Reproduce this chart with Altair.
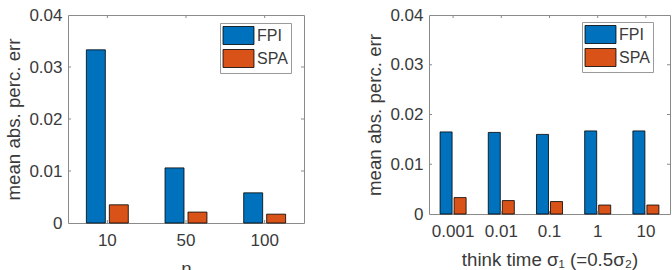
import altair as alt
import pandas as pd

# Mean absolute percentage error of the two approximations
series = ["FPI", "SPA"]
colors = ["#0072BD", "#D95319"]

n_labels = ["10", "50", "100"]
fpi_by_n = [0.0333, 0.0106, 0.0058]
spa_by_n = [0.0035, 0.0021, 0.0017]

sigma_labels = ["0.001", "0.01", "0.1", "1", "10"]
fpi_by_sigma = [0.0165, 0.0164, 0.0160, 0.0167, 0.0167]
spa_by_sigma = [0.0033, 0.0027, 0.0025, 0.0018, 0.0018]

y_ticks = [0, 0.01, 0.02, 0.03, 0.04]
inner_ticks = [0.01, 0.02, 0.03]

FONT = "Liberation Sans"
TEXT = "#3a3a3a"
FRAME = "#8a8a8a"


def long_table(cats, fpi, spa):
    rows = []
    for c, a, b in zip(cats, fpi, spa):
        rows.append({"cat": c, "method": "FPI", "err": a})
        rows.append({"cat": c, "method": "SPA", "err": b})
    return pd.DataFrame(rows)


def panel(cats, fpi, spa, x_title, w, h, off_pad_inner, off_pad_outer, leg_x, leg_y):
    df = long_table(cats, fpi, spa)
    xscale = alt.Scale(domain=cats, paddingInner=0, paddingOuter=0)
    yscale = alt.Scale(domain=[0, 0.04], nice=False)

    bars = alt.Chart(df).mark_bar(stroke="black", strokeWidth=0.8).encode(
        x=alt.X("cat:N", sort=cats, scale=xscale,
                axis=alt.Axis(title=x_title, labelAngle=0, ticks=False, domain=False,
                              labelPadding=9, titlePadding=11)),
        xOffset=alt.XOffset("method:N", sort=series,
                            scale=alt.Scale(paddingInner=off_pad_inner, paddingOuter=off_pad_outer)),
        y=alt.Y("err:Q", scale=yscale,
                axis=alt.Axis(title="mean abs. perc. err", values=y_ticks, format="~g",
                              ticks=False, domain=False, grid=False,
                              labelPadding=6, titlePadding=5)),
        color=alt.Color("method:N", sort=series,
                        scale=alt.Scale(domain=series, range=colors),
                        legend=alt.Legend(title=None, orient="none", legendX=leg_x, legendY=leg_y,
                                          symbolType="M-1.72,-1H1.72V1H-1.72Z", symbolSize=324,
                                          symbolStrokeColor="black", symbolStrokeWidth=0.8,
                                          symbolOpacity=1, symbolOffset=6,
                                          labelFont=FONT, labelFontSize=16, labelColor=TEXT,
                                          labelOffset=9, rowPadding=0, padding=3,
                                          strokeColor="#9a9a9a", fillColor="white")),
    )

    # inward tick marks along the frame
    ydf = pd.DataFrame({"v": inner_ticks})
    left_ticks = alt.Chart(ydf).mark_rule(color=FRAME).encode(
        y=alt.Y("v:Q", scale=yscale), x=alt.value(0), x2=alt.value(3))
    right_ticks = alt.Chart(ydf).mark_rule(color=FRAME).encode(
        y=alt.Y("v:Q", scale=yscale), x=alt.value(w - 3), x2=alt.value(w))
    xdf = pd.DataFrame({"cat": cats})
    top_ticks = alt.Chart(xdf).mark_rule(color=FRAME).encode(
        x=alt.X("cat:N", sort=cats, scale=xscale), y=alt.value(0), y2=alt.value(3))
    bottom_ticks = alt.Chart(xdf).mark_rule(color=FRAME).encode(
        x=alt.X("cat:N", sort=cats, scale=xscale), y=alt.value(h - 3), y2=alt.value(h))

    return alt.layer(bars, left_ticks, right_ticks, top_ticks, bottom_ticks).properties(
        width=w, height=h)


left = panel(n_labels, fpi_by_n, spa_by_n, "n", 236, 208, 0.174, 0.8, 152, 8)
right = panel(sigma_labels, fpi_by_sigma, spa_by_sigma, "think time σ₁ (=0.5σ₂)",
              241, 199, 0.143, 0.79, 153, 7)

chart = alt.hconcat(left, right, spacing=60).resolve_scale(
    color="independent", xOffset="independent").resolve_legend(color="independent").properties(
    padding={"left": 4, "top": 5, "right": 0, "bottom": 0}, background="white"
).configure_view(stroke=FRAME, strokeWidth=1).configure_axis(
    labelFont=FONT, labelFontSize=17, labelColor=TEXT,
    titleFont=FONT, titleFontSize=18.7, titleColor=TEXT, titleFontWeight="normal",
)

chart.save("out.html", embed_options={"renderer": "svg", "actions": False})
